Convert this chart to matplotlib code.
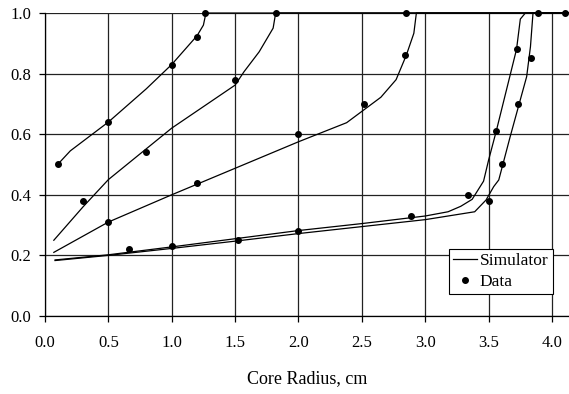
import matplotlib
matplotlib.use("Agg")
import matplotlib.pyplot as plt

plt.rcParams["font.family"] = ["Liberation Serif", "DejaVu Serif"]

# 模拟曲线（五条），每条在到达 1.0 后沿顶部延伸
sim1_x = [0.10, 0.20, 0.50, 0.80, 1.00, 1.20, 1.25, 1.27, 4.14]
sim1_y = [0.50, 0.545, 0.64, 0.75, 0.83, 0.925, 0.96, 1.00, 1.00]

sim2_x = [0.07, 0.30, 0.50, 1.00, 1.50, 1.57, 1.69, 1.80, 1.82, 4.14]
sim2_y = [0.25, 0.36, 0.45, 0.62, 0.762, 0.806, 0.872, 0.95, 1.00, 1.00]

sim3_x = [0.07, 0.50, 1.00, 1.20, 2.00, 2.38, 2.65, 2.77, 2.85, 2.91, 2.93, 4.14]
sim3_y = [0.21, 0.31, 0.40, 0.435, 0.575, 0.638, 0.722, 0.78, 0.86, 0.933, 1.00, 1.00]

sim4_x = [0.08, 0.50, 1.00, 1.50, 2.00, 2.50, 3.00, 3.18, 3.28, 3.37, 3.46,
          3.50, 3.56, 3.72, 3.75, 3.79, 4.14]
sim4_y = [0.185, 0.202, 0.228, 0.255, 0.282, 0.305, 0.33, 0.344, 0.362, 0.385, 0.445,
          0.515, 0.61, 0.88, 0.98, 1.00, 1.00]

sim5_x = [0.08, 0.50, 1.00, 1.50, 2.00, 2.50, 3.00, 3.39, 3.48, 3.54, 3.58,
          3.67, 3.80, 3.83, 3.85, 4.14]
sim5_y = [0.183, 0.200, 0.223, 0.247, 0.272, 0.295, 0.318, 0.344, 0.383, 0.427, 0.449,
          0.592, 0.79, 0.889, 1.00, 1.00]

# 实测数据点
data_x = [0.10, 0.50, 1.00, 1.20, 1.26,
          0.30, 0.80, 1.50, 1.82,
          0.50, 1.20, 2.00, 2.52, 2.84, 2.85,
          0.66, 1.00, 1.52, 2.00, 2.885, 3.34, 3.555, 3.72, 3.89,
          3.50, 3.605, 3.735, 3.835, 4.10]
data_y = [0.50, 0.64, 0.83, 0.92, 1.00,
          0.38, 0.54, 0.78, 1.00,
          0.31, 0.44, 0.60, 0.70, 0.86, 1.00,
          0.22, 0.23, 0.25, 0.28, 0.33, 0.40, 0.61, 0.88, 1.00,
          0.38, 0.50, 0.70, 0.85, 1.00]

xticks = [0.0, 0.5, 1.0, 1.5, 2.0, 2.5, 3.0, 3.5, 4.0]
yticks = [0.0, 0.2, 0.4, 0.6, 0.8, 1.0]

fig = plt.figure(figsize=(5.69, 3.94), dpi=100)
ax = fig.add_axes([0.079, 0.198, 0.921, 0.769])

sims = [(sim1_x, sim1_y), (sim2_x, sim2_y), (sim3_x, sim3_y),
        (sim4_x, sim4_y), (sim5_x, sim5_y)]
for i, (sx, sy) in enumerate(sims):
    ax.plot(sx, sy, color="black", lw=0.9, label="Simulator" if i == 0 else None,
            clip_on=False, zorder=3)
ax.plot(data_x, data_y, "o", color="black", ms=4.0, label="Data",
        clip_on=False, zorder=4)

ax.set_xlim(0, 4.134)
ax.set_ylim(0, 1.0)
ax.set_xticks(xticks)
ax.set_yticks(yticks)
ax.set_xticklabels([f"{v:.1f}" for v in xticks])
ax.set_yticklabels([f"{v:.1f}" for v in yticks])
ax.tick_params(direction="out", length=4, width=0.9, color="black",
               labelsize=12)
ax.tick_params(axis="x", pad=9.5)
ax.tick_params(axis="y", pad=6)
ax.grid(True, color="#222222", lw=0.9)
ax.set_axisbelow(True)
for s in ["top", "right"]:
    ax.spines[s].set_visible(False)
for s in ["left", "bottom"]:
    ax.spines[s].set_linewidth(0.9)

ax.set_xlabel("Core Radius, cm", fontsize=13, labelpad=14)

leg = ax.legend(loc="lower right", bbox_to_anchor=(0.969, 0.0726), fontsize=12.5,
                frameon=True, fancybox=False, edgecolor="black", framealpha=1,
                handlelength=1.4, handletextpad=0.15, borderpad=0.25,
                labelspacing=0.25, borderaxespad=0)
leg.get_frame().set_linewidth(0.8)

fig.savefig("out.png", dpi=100)
